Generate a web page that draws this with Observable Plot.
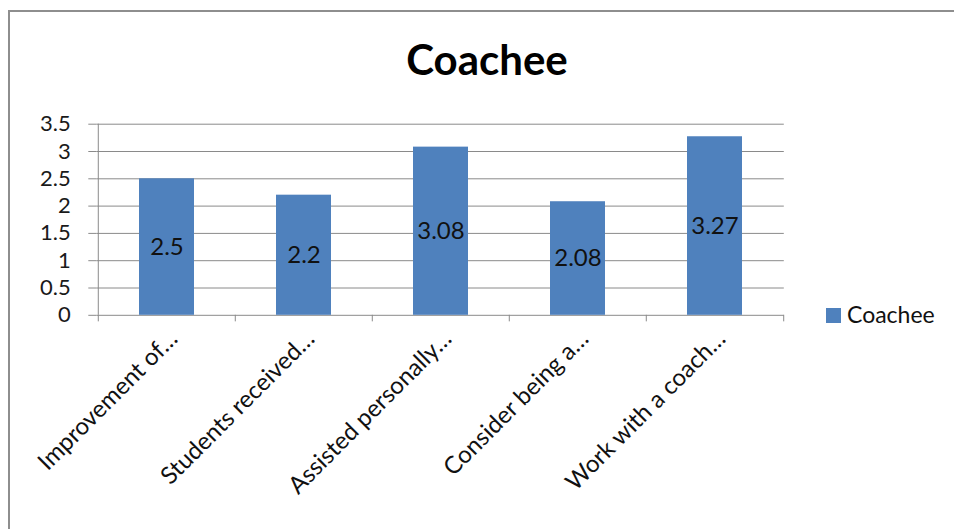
<!DOCTYPE html>
<html>
<head>
<meta charset="utf-8">
<script src="https://cdn.jsdelivr.net/npm/d3@7"></script>
<script src="https://cdn.jsdelivr.net/npm/@observablehq/plot@0.6"></script>
<style>
  body { margin: 0; background: #fff; }
  #wrap { position: relative; width: 954px; height: 529px; overflow: hidden; font-family: Lato, sans-serif; background: #fff; }
  #chart { position: absolute; left: 0; top: 0; }
  #frame { position: absolute; left: 8px; top: 10px; width: 1000px; height: 600px;
           border-left: 2px solid #8e8e8e; border-top: 2px solid #8e8e8e; pointer-events: none; }
  #title { position: absolute; left: 10px; width: 954px; top: 38px; text-align: center;
           font: bold 42px/1 Lato, sans-serif; color: #000; }
  #legend-swatch { position: absolute; left: 826px; top: 308px; width: 15px; height: 15px; }
  #legend-label { position: absolute; left: 847px; top: 303px; font: 23px/1 Lato, sans-serif; color: #111; white-space: nowrap; }
</style>
</head>
<body>
<div id="wrap">
  <div id="chart"></div>
  <div id="title"></div>
  <div id="legend-swatch"></div>
  <div id="legend-label"></div>
  <div id="frame"></div>
</div>
<script>
// ---- data ----
const chartTitle = "Coachee";
const seriesName = "Coachee";
const categories = [
  "Improvement of…",
  "Students received…",
  "Assisted personally…",
  "Consider being a…",
  "Work with a coach…"
];
const values = [2.5, 2.2, 3.08, 2.08, 3.27];
const yTicks = [0, 0.5, 1, 1.5, 2, 2.5, 3, 3.5];

// ---- layout / style ----
const W = 954, H = 529;
const mL = 96.7, mR = W - 783.8, mT = 123.7, mB = H - 314.8;
const barColor = "#4f81bd";
const gridColor = "#8a8a8a";
const step = (W - mL - mR) / categories.length;

const data = categories.map((c, i) => ({category: c, value: values[i]}));

const chart = Plot.plot({
  width: W,
  height: H,
  marginLeft: mL,
  marginRight: mR,
  marginTop: mT,
  marginBottom: mB,
  style: {fontFamily: "Lato, sans-serif", background: "transparent", overflow: "visible"},
  x: {domain: categories, paddingInner: 0.6, paddingOuter: 0.3, axis: null},
  y: {domain: [0, 3.5]},
  marks: [
    Plot.ruleY(yTicks, {stroke: gridColor, strokeWidth: 1}),
    Plot.axisY(yTicks, {
      tickSize: 8.4, tickPadding: 18, fontSize: 22, label: null,
      stroke: gridColor, fill: "#1a1a1a", tickFormat: d => String(d)
    }),
    // vertical axis line
    Plot.ruleX([categories[0]], {x: d => d, dx: -step / 2, y1: 0, y2: 3.5, stroke: gridColor}),
    // category boundary ticks
    Plot.ruleX(categories, {x: d => d, dx: -step / 2, y1: 0, y2: -0.12, stroke: gridColor}),
    Plot.ruleX([categories[categories.length - 1]], {x: d => d, dx: step / 2, y1: 0, y2: -0.12, stroke: gridColor}),
    Plot.barY(data, {x: "category", y: "value", fill: barColor}),
    Plot.text(data, {x: "category", y: d => d.value / 2, text: d => String(d.value), fontSize: 24, fill: "#111"}),
    Plot.text(categories, {
      x: d => d, frameAnchor: "bottom", text: d => d,
      rotate: -45, textAnchor: "end", dx: 12, dy: 25, fontSize: 24, fill: "#111"
    })
  ]
});
document.getElementById("chart").appendChild(chart);
document.getElementById("title").textContent = chartTitle;
document.getElementById("legend-swatch").style.background = barColor;
document.getElementById("legend-label").textContent = seriesName;
</script>
</body>
</html>
